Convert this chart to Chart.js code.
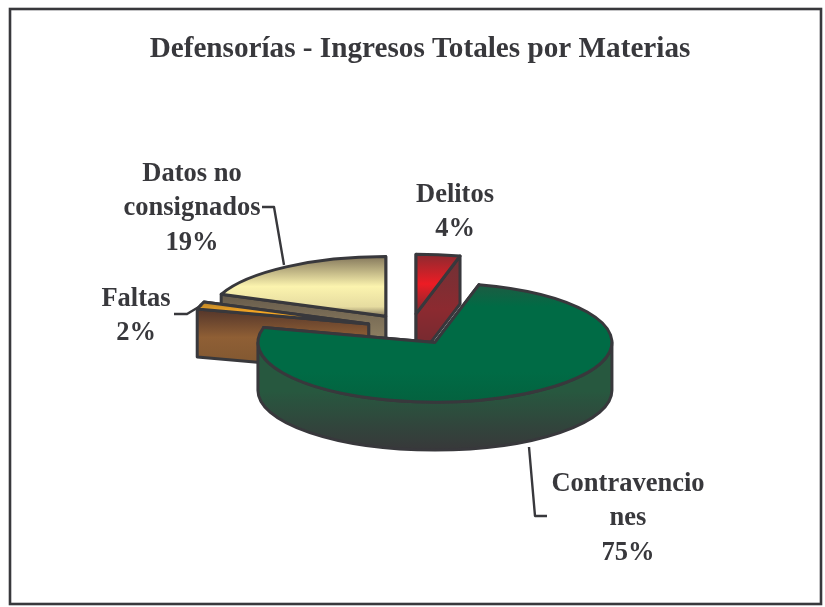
<!DOCTYPE html>
<html lang="es">
<head>
<meta charset="utf-8">
<title>Defensorías - Ingresos Totales por Materias</title>
<script src="https://cdn.jsdelivr.net/npm/chart.js@4"></script>
<style>
html,body{margin:0;padding:0;background:#fff}
canvas{display:block}
</style>
</head>
<body>
<canvas id="c" width="825" height="607"></canvas>
<script>
// ---- data ----
const titleText = 'Defensorías - Ingresos Totales por Materias';
const categories = ['Delitos', 'Contravenciones', 'Faltas', 'Datos no consignados'];
const values = [4, 75, 2, 19];
const labelLines = [['Delitos'], ['Contravencio', 'nes'], ['Faltas'], ['Datos no', 'consignados']];

// ---- style ----
const INK = '#38383c';
const FONT = 'bold 26.5px "Liberation Serif", serif';
const pie = { cx: 410.5, cy: 328.5, radius: 177, squash: 0.337, depth: 48 };
const explodeBy = [44, 48, 44, 44];
const drawOrder = [3, 0, 2, 1];
const topStops = [
  [[0, '#8c2a30'], [0.25, '#ed1c24'], [0.5, '#7c2a30']],
  [[0, '#205a42'], [0.2, '#006b45'], [0.75, '#006b45'], [1, '#04623f']],
  [[0.3, '#a87a2c'], [0.4, '#f5a623'], [0.5, '#f5a623']],
  [[0, '#85785c'], [0.25, '#fbf3ae'], [0.42, '#e6dca0'], [0.5, '#85785c']]
];
const faceStops = [
  [[0, '#6f3236'], [0.5, '#8c2a30'], [1, '#6b2a30']],
  [[0, '#27583f'], [1, '#38383a']],
  [[0, '#53352a'], [0.45, '#8f5f35'], [1, '#7e5630']],
  [[0, '#665b4b'], [1, '#a5946f']]
];
const labelBoxes = [
  { x: 455, y: 195 }, { x: 628, y: 484 }, { x: 136, y: 299 }, { x: 192, y: 174 }
];
const leaders = [
  null,
  [[547, 516], [535, 516], [529, 447]],
  [[174, 314], [187, 314], [202, 305]],
  [[262, 207], [274, 207], [284, 265]]
];
const LINE_H = 34.6;

function gradientFrom(g, stops) { stops.forEach(s => g.addColorStop(s[0], s[1])); return g; }

const pie3d = {
  id: 'pie3d',
  beforeDraw(chart) {
    const c = chart.ctx;
    c.save();
    c.fillStyle = '#fff';
    c.fillRect(0, 0, chart.width, chart.height);
    c.strokeStyle = INK;
    c.lineWidth = 2.6;
    c.strokeRect(10, 9, 811, 595);
    c.restore();
  },
  beforeDatasetDraw(chart, args) {
    const c = chart.ctx;
    const meta = args.meta;
    const { cx, cy, squash: k, depth } = pie;
    drawOrder.forEach(i => {
      const arc = meta.data[i];
      const a1 = arc.startAngle, a2 = arc.endAngle, R = arc.outerRadius;
      const mid = (a1 + a2) / 2;
      const ox = cx + explodeBy[i] * Math.cos(mid);
      const oy = cy + k * explodeBy[i] * Math.sin(mid);
      const rimX = a => ox + R * Math.cos(a);
      const rimY = a => oy + k * R * Math.sin(a);
      c.save();
      c.lineWidth = 3;
      c.lineJoin = 'round';
      c.strokeStyle = INK;
      // cut faces, back ones first
      [a1, a2].sort((p, q) => rimY(p) - rimY(q)).forEach(a => {
        c.beginPath();
        c.moveTo(ox, oy);
        c.lineTo(rimX(a), rimY(a));
        c.lineTo(rimX(a), rimY(a) + depth);
        c.lineTo(ox, oy + depth);
        c.closePath();
        const y0 = Math.min(oy, rimY(a));
        c.fillStyle = gradientFrom(c.createLinearGradient(0, y0, 0, Math.max(oy, rimY(a)) + depth), faceStops[i]);
        c.fill();
        c.stroke();
      });
      // outer wall (front half of the rim)
      const w1 = Math.max(a1, 0), w2 = Math.min(a2, Math.PI);
      if (w2 > w1) {
        c.beginPath();
        c.ellipse(ox, oy, R, k * R, 0, w1, w2);
        c.ellipse(ox, oy + depth, R, k * R, 0, w2, w1, true);
        c.closePath();
        c.fillStyle = gradientFrom(c.createLinearGradient(0, oy, 0, oy + k * R + depth), [[0, faceStops[i][0][1]], [0.45, faceStops[i][0][1]], [1, faceStops[i][faceStops[i].length - 1][1]]]);
        c.fill();
        c.stroke();
      }
      // top face: the library's own arc, squashed and moved
      c.save();
      c.translate(ox, oy);
      c.scale(1, k);
      c.translate(-arc.x, -arc.y);
      arc.draw(c);
      c.restore();
      // outline
      c.beginPath();
      c.moveTo(ox, oy);
      c.lineTo(rimX(a1), rimY(a1));
      c.ellipse(ox, oy, R, k * R, 0, a1, a2);
      c.closePath();
      c.stroke();
      c.restore();
    });
    return false;
  },
  afterDatasetsDraw(chart) {
    const c = chart.ctx;
    c.save();
    c.strokeStyle = INK;
    c.lineWidth = 2.4;
    c.lineJoin = 'round';
    leaders.forEach(path => {
      if (!path) return;
      c.beginPath();
      path.forEach((p, j) => j ? c.lineTo(p[0], p[1]) : c.moveTo(p[0], p[1]));
      c.stroke();
    });
    c.fillStyle = INK;
    c.font = FONT;
    c.textAlign = 'center';
    c.textBaseline = 'middle';
    labelLines.forEach((lines, i) => {
      const box = labelBoxes[i];
      lines.concat(values[i] + '%').forEach((t, j) => c.fillText(t, box.x, box.y + j * LINE_H));
    });
    c.restore();
  }
};

new Chart(document.getElementById('c'), {
  type: 'pie',
  data: {
    labels: categories,
    datasets: [{
      data: values,
      borderWidth: 0,
      radius: pie.radius,
      clip: false,
      backgroundColor(ctx) {
        const area = ctx.chart.chartArea;
        if (!area || ctx.dataIndex === undefined) return '#888';
        const mid = (area.top + area.bottom) / 2;
        const g = ctx.chart.ctx.createLinearGradient(0, mid - pie.radius, 0, mid + pie.radius);
        return gradientFrom(g, topStops[ctx.dataIndex]);
      }
    }]
  },
  options: {
    responsive: false,
    animation: false,
    events: [],
    layout: { padding: { left: 15, top: 0, right: 0, bottom: 0 } },
    plugins: {
      legend: { display: false },
      tooltip: { enabled: false },
      title: {
        display: true,
        text: titleText,
        color: INK,
        font: { family: '"Liberation Serif", serif', size: 29.2, weight: 'bold' },
        padding: { top: 32, bottom: 10 }
      }
    }
  },
  plugins: [pie3d]
});
</script>
</body>
</html>
